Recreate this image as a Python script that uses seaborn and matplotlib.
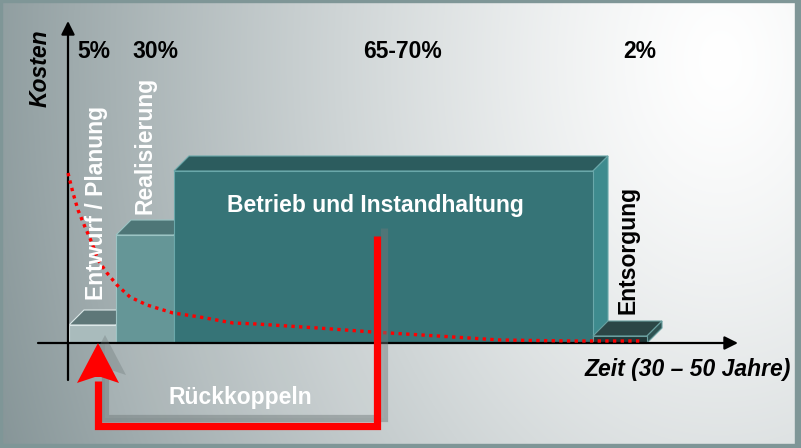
import numpy as np
import pandas as pd
import matplotlib
matplotlib.use('Agg')
import matplotlib.pyplot as plt
import seaborn as sns

# phases of the life cycle (x = time units, y = cost units)
phases = ["Entwurf / Planung", "Realisierung", "Betrieb und Instandhaltung", "Entsorgung"]
shares = ["5%", "30%", "65-70%", "2%"]
phase_start = [1, 48, 106, 525]
phase_end = [48, 106, 525, 579]
phase_cost = [18, 108, 172, 7]

# influence on costs (red dotted curve)
curve_x = [0, 5, 10, 17, 24, 30, 39, 49, 62, 79, 105, 132, 165, 189, 250, 305, 370, 432, 505, 575]
curve_y = [170, 150, 133, 116, 100, 83, 70, 58, 46, 38, 30, 26, 20, 19, 15, 11, 7, 3, 2, 2]

axis_label_x = "Zeit (30 – 50 Jahre)"
axis_label_y = "Kosten"
feedback_label = "Rückkoppeln"

sns.set_theme(style="white")
plt.rcParams['font.family'] = ['Liberation Sans', 'DejaVu Sans']

fig = plt.figure(figsize=(8.01, 4.48), dpi=100)
ax = fig.add_axes([0, 0, 1, 1])
ax.set_xlim(-68, 733)
ax.set_ylim(-105, 343)
ax.axis('off')

# background gradient
W, H = 801, 448
gx, gy = np.meshgrid(np.arange(W), np.arange(H))
d = np.sqrt(((gx - 720) / 650.0) ** 2 + ((gy - 60) / 900.0) ** 2)
t = np.clip(d / 1.2, 0, 1) ** 1.3
dark = np.array([0.52, 0.58, 0.59])
img = 1 - t[..., None] * (1 - dark)
ax.imshow(img, extent=(-68, 733, -105, 343), origin='upper', aspect='auto', zorder=0)

# frame
for rect in [(0, 0, 1, 0.009), (0, 0.995, 1, 0.005), (0, 0, 0.003, 1), (0.992, 0, 0.008, 1)]:
    ax.add_patch(plt.Rectangle(rect[:2], rect[2], rect[3], transform=ax.transAxes,
                               color="#7f9697", zorder=1))

front_col = ["#a9bbbc", "#659697", "#367477", "#1f3737"]
top_col = ["#5e7778", "#4e7677", "#2c5c5e", "#2b4646"]
side_col = ["#8aa3a4", "#5a8a8b", "#3e8b8e", "#2e5252"]
edge_col = ["#dce8e8", "#9cc4c4", "#6aa8aa", "#6aa0a0"]
dx, dy = 15, 15

widths = [e - s for s, e in zip(phase_start, phase_end)]
for i in range(len(phases)):
    x0, x1, h = phase_start[i], phase_end[i], phase_cost[i]
    z = 2 + i
    ax.fill([x0, x0 + dx, x1 + dx, x1], [h, h + dy, h + dy, h],
            color=top_col[i], ec=edge_col[i], lw=0.8, zorder=z)
    ax.fill([x1, x1, x1 + dx, x1 + dx], [0, h, h + dy, dy],
            color=side_col[i], ec=edge_col[i], lw=0.8, zorder=z)
    ax.bar(x0, h, width=widths[i], align='edge', color=front_col[i],
           edgecolor=edge_col[i], linewidth=0.8, zorder=z)

# axes with arrow heads
arrow_kw = dict(arrowstyle="-|>", color="black", lw=1.6, mutation_scale=20, shrinkA=0, shrinkB=0)
ax.annotate("", xy=(0, 322), xytext=(0, -37), arrowprops=arrow_kw, zorder=8)
ax.annotate("", xy=(670, 0), xytext=(-30, 0), arrowprops=arrow_kw, zorder=8)

# red dotted cost-influence curve
sns.lineplot(x=curve_x, y=curve_y, ax=ax, color="#ff0000", linewidth=2.4,
             linestyle=(0, (1, 1.3)), zorder=9, sort=False)

# feedback arrow (light panel, shadow, red arrow)
path_x = [309, 309, 30, 30]
path_y = [107, -83, -83, -38]
head_x = [9, 30, 51, 33, 27]
head_y = [-40, 0, -40, -34, -34]
ax.fill([37, 316, 316, 37], [0, 0, -75, -75], color="white", alpha=0.1, lw=0, zorder=2)
ax.plot([v + 7 for v in path_x], [v + 8 for v in path_y], color="#6e7878", alpha=0.45,
        lw=5.2, solid_joinstyle='miter', solid_capstyle='butt', zorder=10)
ax.fill([v + 7 for v in head_x], [v + 8 for v in head_y], color="#6e7878", alpha=0.35, lw=0, zorder=10)
ax.plot(path_x, path_y, color="#ff0000", lw=5.2, solid_joinstyle='miter',
        solid_capstyle='butt', zorder=11)
ax.fill(head_x, head_y, color="#ff0000", lw=0, zorder=11)

# texts
fs = 16.5
pct_pos = [(26, 292), (87, 292), (335, 292), (572, 292)]
for s, (x, y) in zip(shares, pct_pos):
    ax.text(x, y, s, ha='center', va='center', fontsize=fs, fontweight='bold', color='black', zorder=12)

ax.text(28, 140, phases[0], rotation=90, ha='center', va='center', fontsize=fs,
        fontweight='bold', color='white', zorder=12)
ax.text(77, 198, phases[1], rotation=90, ha='center', va='center', fontsize=fs,
        fontweight='bold', color='white', zorder=12)
ax.text(307, 138, phases[2], ha='center', va='center', fontsize=fs,
        fontweight='bold', color='white', zorder=12)
ax.text(560, 93, phases[3], rotation=90, ha='center', va='center', fontsize=fs,
        fontweight='bold', color='black', zorder=12)

ax.text(-28, 275, axis_label_y, rotation=90, ha='center', va='center', fontsize=fs,
        fontweight='bold', fontstyle='italic', color='black', zorder=12)
ax.text(620, -26, axis_label_x, ha='center', va='center', fontsize=fs,
        fontweight='bold', fontstyle='italic', color='black', zorder=12)
ax.text(172, -54, feedback_label, ha='center', va='center', fontsize=fs,
        fontweight='bold', color='white', zorder=12)

fig.savefig("out.png", dpi=100)
plt.close(fig)
